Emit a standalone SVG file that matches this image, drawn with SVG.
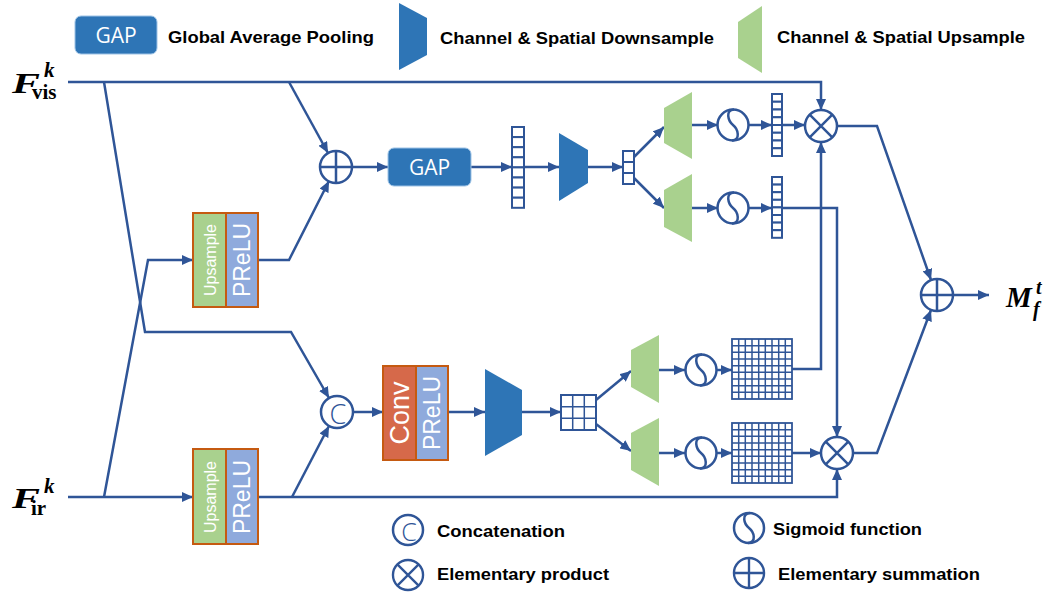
<svg xmlns="http://www.w3.org/2000/svg" width="1051" height="593" viewBox="0 0 1051 593">
  <style>
    .ln { fill: none; stroke: #2F5597; stroke-width: 2.5; stroke-linejoin: miter; }
    .arr { marker-end: url(#ah); }
    .op { fill: #ffffff; stroke: #2F5597; stroke-width: 2.5; }
    .opl { fill: none; stroke: #2F5597; stroke-width: 2.5; }
    .cell { fill: #ffffff; stroke: #2F5597; stroke-width: 2; }
    .grid { fill: none; stroke: #2F5597; stroke-width: 1.5; }
    .down { fill: #2E75B6; }
    .up { fill: #A9D18E; }
    .gap { fill: #2E75B6; stroke: #9DC3E6; stroke-width: 1; }
    .gapt { font-family: "Open Sans", "Liberation Sans", sans-serif; font-size: 21px; fill: #ffffff; text-anchor: middle; }
    .leg { font-family: "Liberation Sans", Arial, sans-serif; font-weight: bold; font-size: 17px; fill: #000000; }
    .boxg { fill: #A9D18E; stroke: #C55A11; stroke-width: 2; }
    .boxb { fill: #8FAADC; stroke: #C55A11; stroke-width: 2; }
    .boxo { fill: #D6694A; stroke: #C55A11; stroke-width: 2; }
    .vt { font-family: "Liberation Sans", Arial, sans-serif; fill: #ffffff; text-anchor: middle; dominant-baseline: central; }
    .mi { font-family: "Liberation Serif", "Times New Roman", serif; font-weight: bold; font-style: italic; fill: #000000; }
    .mb { font-family: "Liberation Serif", "Times New Roman", serif; font-weight: bold; fill: #000000; }
    .ct { font-family: "Open Sans", "Liberation Sans", sans-serif; font-weight: 300; fill: #2F5597; text-anchor: middle; dominant-baseline: central; }
  </style>
  <defs>
    <marker id="ah" markerUnits="userSpaceOnUse" markerWidth="12" markerHeight="10" refX="11" refY="5" orient="auto">
      <path d="M0,0 L11,5 L0,10 z" fill="#2F5597"/>
    </marker>
    <!-- reusable operator glyph strokes, centred on 0,0, radius 16 -->
    <g id="plus"><circle r="16" class="op"/><path d="M-16,0 H16 M0,-16 V16" class="opl"/></g>
    <g id="times"><circle r="16" class="op"/><path d="M-11.3,-11.3 L11.3,11.3 M-11.3,11.3 L11.3,-11.3" class="opl"/></g>
    <g id="sig"><circle r="15.5" class="op"/><path d="M1,-15.5 C-8,-15 -5,-4 0,0 C5,4 8,15 -1,15.5" class="opl"/></g>
    <g id="sigs"><circle r="15" class="op"/><path d="M1,-15 C-8,-14 -5,-4 0,0 C5,4 8,14 -1,15" class="opl"/></g>
  </defs>

  <rect width="1051" height="593" fill="#ffffff"/>

  <!-- top legend -->
  <g id="legend-top">
    <rect x="75" y="16" width="82" height="38" rx="6" class="gap"/>
    <text x="116" y="43" class="gapt">GAP</text>
    <text x="168" y="43" class="leg" textLength="206" lengthAdjust="spacingAndGlyphs">Global Average Pooling</text>
    <polygon points="399,3 427,18 427,55 399,70" class="down"/>
    <text x="440" y="44" class="leg" textLength="274" lengthAdjust="spacingAndGlyphs">Channel &amp; Spatial Downsample</text>
    <polygon points="738,22 762,6 762,73 738,58" class="up"/>
    <text x="777" y="43" class="leg" textLength="248" lengthAdjust="spacingAndGlyphs">Channel &amp; Spatial Upsample</text>
  </g>

  <!-- input / output labels -->
  <g id="label-fvis">
    <text x="12" y="93" class="mi" font-size="30" textLength="28" lengthAdjust="spacingAndGlyphs">F</text>
    <text x="44" y="77" class="mi" font-size="21">k</text>
    <text x="32" y="99" class="mb" font-size="21">vis</text>
  </g>
  <g id="label-fir">
    <text x="12" y="508" class="mi" font-size="30" textLength="28" lengthAdjust="spacingAndGlyphs">F</text>
    <text x="44" y="493" class="mi" font-size="21">k</text>
    <text x="31" y="515" class="mb" font-size="21">ir</text>
  </g>
  <g id="label-mft">
    <text x="1006" y="307" class="mi" font-size="29">M</text>
    <text x="1036" y="294" class="mi" font-size="20">t</text>
    <text x="1033" y="316" class="mi" font-size="20">f</text>
  </g>

  <!-- connectors -->
  <g id="connectors">
    <path d="M68,82 H821 V110" class="ln arr"/>
    <path d="M289,82 L328,153" class="ln arr"/>
    <path d="M104,82 L145,332 H291 L329,398" class="ln arr"/>
    <path d="M68,497 H193" class="ln arr"/>
    <path d="M258,497 H837 V469" class="ln arr"/>
    <path d="M104,497 L148,260 H193" class="ln arr"/>
    <path d="M258,260 H289 L329,181" class="ln arr"/>
    <path d="M292,497 L329,426" class="ln arr"/>
    <path d="M352,167 H388" class="ln arr"/>
    <path d="M471,167 H512" class="ln arr"/>
    <path d="M524,167 H559" class="ln arr"/>
    <path d="M588,167 H623" class="ln arr"/>
    <path d="M634,157 L664,127" class="ln arr"/>
    <path d="M634,178 L664,208" class="ln arr"/>
    <path d="M692,125 H718" class="ln arr"/>
    <path d="M748,125 H772" class="ln arr"/>
    <path d="M782,125 H805" class="ln arr"/>
    <path d="M692,208 H718" class="ln arr"/>
    <path d="M748,208 H772" class="ln arr"/>
    <path d="M782,208 H837 V437" class="ln arr"/>
    <path d="M837,126 H877 L931,280" class="ln arr"/>
    <path d="M853,453 H877 L931,310" class="ln arr"/>
    <path d="M953,295 H989" class="ln arr"/>
    <path d="M353,412 H383" class="ln arr"/>
    <path d="M448,412 H485" class="ln arr"/>
    <path d="M522,412 H561" class="ln arr"/>
    <path d="M596,400 L631,371" class="ln arr"/>
    <path d="M596,424 L631,451" class="ln arr"/>
    <path d="M659,370 H685" class="ln arr"/>
    <path d="M717,370 H732" class="ln arr"/>
    <path d="M792,369 H821 V142" class="ln arr"/>
    <path d="M659,453 H685" class="ln arr"/>
    <path d="M717,453 H732" class="ln arr"/>
    <path d="M792,453 H821" class="ln arr"/>
  </g>

  <!-- upsample + PReLU blocks -->
  <g id="up-prelu-top">
    <rect x="193" y="213" width="33" height="94" class="boxg"/>
    <rect x="226" y="213" width="32" height="94" class="boxb"/>
    <text transform="translate(210,260) rotate(-90)" class="vt" font-size="16">Upsample</text>
    <text transform="translate(242,260) rotate(-90)" class="vt" font-size="23">PReLU</text>
  </g>
  <g id="up-prelu-bottom">
    <rect x="193" y="449" width="33" height="95" class="boxg"/>
    <rect x="226" y="449" width="32" height="95" class="boxb"/>
    <text transform="translate(210,497) rotate(-90)" class="vt" font-size="16">Upsample</text>
    <text transform="translate(242,497) rotate(-90)" class="vt" font-size="23">PReLU</text>
  </g>

  <!-- operators -->
  <g id="sum-top"><use href="#plus" x="336" y="167"/></g>
  <g id="concat">
    <circle cx="337" cy="412" r="16" class="op"/>
    <text x="338" y="413" class="ct" font-size="27">C</text>
  </g>

  <!-- channel branch -->
  <g id="gap-node">
    <rect x="388" y="148" width="83" height="38" rx="6" class="gap"/>
    <text x="429.5" y="175" class="gapt">GAP</text>
  </g>
  <g id="vec-gap">
    <rect x="512" y="127" width="12" height="10.1" class="cell"/>
    <rect x="512" y="137.1" width="12" height="10.1" class="cell"/>
    <rect x="512" y="147.2" width="12" height="10.1" class="cell"/>
    <rect x="512" y="157.3" width="12" height="10.1" class="cell"/>
    <rect x="512" y="167.4" width="12" height="10.1" class="cell"/>
    <rect x="512" y="177.5" width="12" height="10.1" class="cell"/>
    <rect x="512" y="187.6" width="12" height="10.1" class="cell"/>
    <rect x="512" y="197.7" width="12" height="10.1" class="cell"/>
  </g>
  <g id="down-ch"><polygon points="559,133 588,150 588,183 559,201" class="down"/></g>
  <g id="vec-small">
    <rect x="623" y="151" width="11" height="11" class="cell"/>
    <rect x="623" y="162" width="11" height="11" class="cell"/>
    <rect x="623" y="173" width="11" height="11" class="cell"/>
  </g>
  <g id="up-ch-a"><polygon points="664,108 692,92 692,159 664,143" class="up"/></g>
  <g id="up-ch-b"><polygon points="664,190 692,174 692,242 664,227" class="up"/></g>
  <g id="sig-ch-a"><use href="#sig" x="733" y="125"/></g>
  <g id="sig-ch-b"><use href="#sig" x="733" y="208"/></g>
  <g id="vec-ch-a">
    <rect x="772" y="94" width="10" height="7.75" class="cell"/>
    <rect x="772" y="101.75" width="10" height="7.75" class="cell"/>
    <rect x="772" y="109.5" width="10" height="7.75" class="cell"/>
    <rect x="772" y="117.25" width="10" height="7.75" class="cell"/>
    <rect x="772" y="125" width="10" height="7.75" class="cell"/>
    <rect x="772" y="132.75" width="10" height="7.75" class="cell"/>
    <rect x="772" y="140.5" width="10" height="7.75" class="cell"/>
    <rect x="772" y="148.25" width="10" height="7.75" class="cell"/>
  </g>
  <g id="vec-ch-b">
    <rect x="772" y="177" width="10" height="7.6" class="cell"/>
    <rect x="772" y="184.6" width="10" height="7.6" class="cell"/>
    <rect x="772" y="192.2" width="10" height="7.6" class="cell"/>
    <rect x="772" y="199.8" width="10" height="7.6" class="cell"/>
    <rect x="772" y="207.4" width="10" height="7.6" class="cell"/>
    <rect x="772" y="215" width="10" height="7.6" class="cell"/>
    <rect x="772" y="222.6" width="10" height="7.6" class="cell"/>
    <rect x="772" y="230.2" width="10" height="7.6" class="cell"/>
  </g>
  <g id="mul-top"><use href="#times" x="821" y="126"/></g>

  <!-- spatial branch -->
  <g id="conv-prelu">
    <rect x="383" y="366" width="33" height="94" class="boxo"/>
    <rect x="416" y="366" width="32" height="94" class="boxb"/>
    <text transform="translate(400,413) rotate(-90)" class="vt" font-size="27">Conv</text>
    <text transform="translate(432,413) rotate(-90)" class="vt" font-size="23">PReLU</text>
  </g>
  <g id="down-sp"><polygon points="485,369 522,390 522,435 485,456" class="down"/></g>
  <g id="grid-small">
    <rect x="561" y="395" width="35" height="35" fill="#ffffff" stroke="#2F5597" stroke-width="2"/>
    <path d="M572.7,395 V430 M584.3,395 V430 M561,406.7 H596 M561,418.3 H596" class="grid" stroke-width="2"/>
  </g>
  <g id="up-sp-a"><polygon points="631,350 659,335 659,403 631,387" class="up"/></g>
  <g id="up-sp-b"><polygon points="631,433 659,418 659,486 631,470" class="up"/></g>
  <g id="sig-sp-a"><use href="#sig" x="701" y="370"/></g>
  <g id="sig-sp-b"><use href="#sig" x="701" y="453"/></g>
  <g id="grid-sp-a">
    <rect x="732" y="339" width="60" height="60" fill="#ffffff" stroke="#2F5597" stroke-width="1.8"/>
    <path d="M738.7,339 V399 M745.3,339 V399 M752,339 V399 M758.7,339 V399 M765.3,339 V399 M772,339 V399 M778.7,339 V399 M785.3,339 V399 M732,345.7 H792 M732,352.3 H792 M732,359 H792 M732,365.7 H792 M732,372.3 H792 M732,379 H792 M732,385.7 H792 M732,392.3 H792" class="grid"/>
  </g>
  <g id="grid-sp-b">
    <rect x="732" y="423" width="60" height="60" fill="#ffffff" stroke="#2F5597" stroke-width="1.8"/>
    <path d="M738.7,423 V483 M745.3,423 V483 M752,423 V483 M758.7,423 V483 M765.3,423 V483 M772,423 V483 M778.7,423 V483 M785.3,423 V483 M732,429.7 H792 M732,436.3 H792 M732,443 H792 M732,449.7 H792 M732,456.3 H792 M732,463 H792 M732,469.7 H792 M732,476.3 H792" class="grid"/>
  </g>
  <g id="mul-bottom"><use href="#times" x="837" y="453"/></g>
  <g id="sum-out"><use href="#plus" x="937" y="295"/></g>

  <!-- bottom legend -->
  <g id="legend-bottom">
    <circle cx="408" cy="530" r="15" class="op"/>
    <text x="409" y="531" class="ct" font-size="25">C</text>
    <text x="437" y="537" class="leg" textLength="128" lengthAdjust="spacingAndGlyphs">Concatenation</text>
    <g transform="translate(408,575) scale(0.94)"><use href="#times"/></g>
    <text x="437" y="580" class="leg" textLength="172" lengthAdjust="spacingAndGlyphs">Elementary product</text>
    <g transform="translate(749,528)"><use href="#sigs"/></g>
    <text x="773" y="535" class="leg" textLength="149" lengthAdjust="spacingAndGlyphs">Sigmoid function</text>
    <g transform="translate(749,573) scale(0.94)"><use href="#plus"/></g>
    <text x="778" y="580" class="leg" textLength="202" lengthAdjust="spacingAndGlyphs">Elementary summation</text>
  </g>
</svg>
